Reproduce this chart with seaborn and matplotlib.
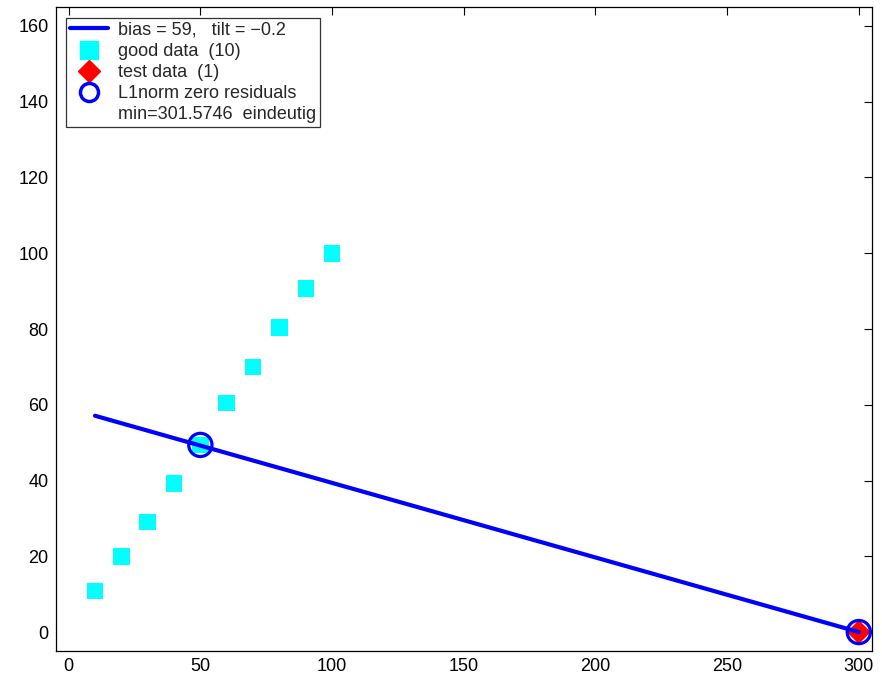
import matplotlib
matplotlib.use("Agg")
import matplotlib.pyplot as plt
from matplotlib.lines import Line2D
import seaborn as sns
import pandas as pd

# data
good_x = [10, 20, 30, 40, 50, 60, 70, 80, 90, 100]
good_y = [10.8, 19.9, 29.1, 39.2, 49.4, 60.4, 69.9, 80.4, 90.7, 99.9]
test_x = [300]
test_y = [0.0]
line_x = [10, 300]
line_y = [57.1, 0.0]
zero_x = [50, 300]
zero_y = [49.4, 0.0]
x_ticks = [0, 50, 100, 150, 200, 250, 300]
y_ticks = [0, 20, 40, 60, 80, 100, 120, 140, 160]
labels = ["bias = 59,   tilt = \u22120.2", "good data  (10)", "test data  (1)",
          "L1norm zero residuals", "min=301.5746  eindeutig"]

sns.set_style("white")
plt.rcParams['font.family'] = ['Liberation Sans', 'DejaVu Sans']

fig = plt.figure(figsize=(8.82, 6.76), dpi=100)
ax = fig.add_axes([55.5/882, 1-651/676, (872-55.5)/882, (651-7)/676])

df_line = pd.DataFrame({"x": line_x, "y": line_y})
df_good = pd.DataFrame({"x": good_x, "y": good_y})
df_test = pd.DataFrame({"x": test_x, "y": test_y})
df_zero = pd.DataFrame({"x": zero_x, "y": zero_y})

sns.lineplot(data=df_line, x="x", y="y", ax=ax, color="#0000ff", lw=3, zorder=3,
             sort=False, estimator=None)
sns.scatterplot(data=df_good, x="x", y="y", ax=ax, marker="s", s=140,
                color="#00ffff", edgecolor="none", zorder=2, linewidth=0)
sns.scatterplot(data=df_test, x="x", y="y", ax=ax, marker="D", s=150,
                color="#ff0000", edgecolor="none", zorder=2, linewidth=0)
sns.scatterplot(data=df_zero, x="x", y="y", ax=ax, marker="o", s=280,
                facecolor="none", edgecolor="#0000ff", linewidth=2.3, zorder=4)

ax.set_xlim(-5, 305)
ax.set_ylim(-5, 165)
ax.set_xticks(x_ticks)
ax.set_yticks(y_ticks)
ax.set_xlabel("")
ax.set_ylabel("")
ax.tick_params(direction="in", top=True, right=True, length=5.5, width=0.8,
               labelsize=13, colors="black", pad=5)
for s in ax.spines.values():
    s.set_color("black")
    s.set_linewidth(0.9)

handles = [
    Line2D([], [], color="#0000ff", lw=3),
    Line2D([], [], marker="s", color="#00ffff", ls="none", markersize=13),
    Line2D([], [], marker="D", color="#ff0000", ls="none", markersize=11),
    Line2D([], [], marker="o", markerfacecolor="none", markeredgecolor="#0000ff",
           markeredgewidth=2.5, ls="none", markersize=13),
    Line2D([], [], ls="none"),
]
leg = ax.legend(handles, labels, loc="upper left", fontsize=13, frameon=True,
                fancybox=False, edgecolor="black", borderaxespad=0.6,
                handlelength=2.1, handletextpad=0.55, labelspacing=0.23,
                borderpad=0.22)
leg.get_frame().set_linewidth(0.9)

fig.savefig("out.png", dpi=100)
